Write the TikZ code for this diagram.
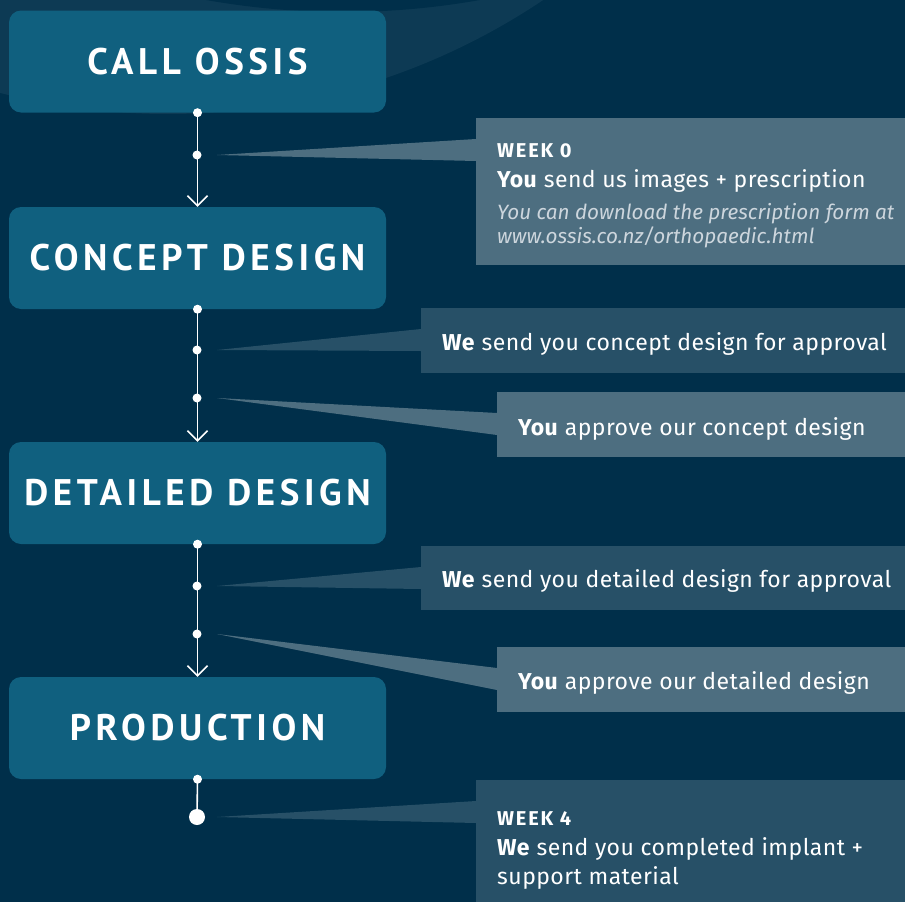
\documentclass[tikz,border=0pt]{standalone}
\usepackage{fontspec}
\setmainfont{Fira Sans}
\newfontfamily\headfont{PT Sans}[LetterSpace=12.5]
\newfontfamily\bodyfont{Fira Sans}[LetterSpace=2]
\newfontfamily\weekfont{Fira Sans}[LetterSpace=9]
\usetikzlibrary{arrows.meta,calc}
\definecolor{bgc}{RGB}{0,47,74}
\definecolor{arcc}{RGB}{13,58,84}
\definecolor{boxc}{RGB}{16,96,127}
\definecolor{calllight}{RGB}{77,110,128}
\definecolor{calldark}{RGB}{39,80,103}
\definecolor{italc}{RGB}{205,214,221}
\tikzset{
  stage/.style={fill=boxc, rounded corners=12pt, minimum width=377pt, minimum height=102pt,
    inner sep=0pt, text=white, font=\headfont\bfseries\fontsize{37}{37}\selectfont},
  flow/.style={white, line width=1.6pt, -{Straight Barb[length=10pt,width=20pt,line width=1.5pt]}},
  dotsm/.style={fill=white},
  calloutbox/.style={anchor=north west, inner sep=0pt},
  lighttone/.style={fill=calllight},
  darktone/.style={fill=calldark},
  ctext/.style={anchor=base west, inner sep=0pt, text=white, font=\bodyfont\fontsize{23}{26}\selectfont},
  cweek/.style={anchor=base west, inner sep=0pt, text=white, font=\weekfont\bfseries\fontsize{20}{22}\selectfont},
  citalic/.style={anchor=base west, inner sep=0pt, text=italc, font=\itshape\fontsize{20.7}{24}\selectfont},
}
\newcommand{\pointer}[3]{% tip, callout node, colour
  \fill[#3] (#1) -- ($(#2.north west)+(0,21)$) -- ($(#2.north west)+(0,43)$) -- cycle;}
\begin{document}
\begin{tikzpicture}[x=1pt,y=-1pt]
\useasboundingbox (0,0) rectangle (905,902);
\clip (0,0) rectangle (905,902);
\fill[bgc] (0,0) rectangle (905,902);
\fill[arcc] (168,-560) circle[radius=674pt];
\fill[bgc] (343,-765) circle[radius=777pt];

% stages
\node[stage] (s1) at (197.5,61.5) {CALL OSSIS};
\node[stage] (s2) at (197.5,258) {CONCEPT DESIGN};
\node[stage] (s3) at (197.5,493) {DETAILED DESIGN};
\node[stage] (s4) at (197.5,728) {PRODUCTION};

% step points on the flow
\coordinate (a1) at (197,155);
\coordinate (b1) at (197,350);
\coordinate (b2) at (197,398);
\coordinate (e1) at (197,586);
\coordinate (e2) at (197,634);
\coordinate (f1) at (197,817);

% callout boxes
\node[calloutbox, lighttone, minimum width=429pt, minimum height=147pt] (c1) at (476,118) {};
\node[calloutbox, darktone, minimum width=484pt, minimum height=65pt] (c2) at (421,308) {};
\node[calloutbox, lighttone, minimum width=408pt, minimum height=65pt] (c3) at (497,392) {};
\node[calloutbox, darktone, minimum width=484pt, minimum height=64pt] (c4) at (421,546) {};
\node[calloutbox, lighttone, minimum width=408pt, minimum height=65pt] (c5) at (497,647) {};
\node[calloutbox, darktone, minimum width=429pt, minimum height=140pt] (c6) at (476,780) {};

% pointers
\pointer{$(a1)+(20,0)$}{c1}{calllight}
\pointer{$(b1)+(20,0)$}{c2}{calldark}
\pointer{$(b2)+(20,0)$}{c3}{calllight}
\pointer{$(e1)+(20,0)$}{c4}{calldark}
\pointer{$(e2)+(20,0)$}{c5}{calllight}
\pointer{$(f1)+(20,0)$}{c6}{calldark}

% flow lines
\draw[flow] (s1.south) -- (s2.north);
\draw[flow] (s2.south) -- (s3.north);
\draw[flow] (s3.south) -- (s4.north);
\draw[white, line width=1.6pt] (s4.south) -- (f1);
\fill[dotsm] (s1.south) circle[radius=4.5pt] (a1) circle[radius=4.5pt];
\fill[dotsm] (s2.south) circle[radius=4.5pt] (b1) circle[radius=4.5pt] (b2) circle[radius=4.5pt];
\fill[dotsm] (s3.south) circle[radius=4.5pt] (e1) circle[radius=4.5pt] (e2) circle[radius=4.5pt];
\fill[dotsm] (s4.south) circle[radius=4.5pt] (f1) circle[radius=8pt];

% callout texts
\node[cweek] (t1a) at (497,157) {WEEK 0};
\node[ctext] (t1b) at (497,187) {\textbf{You} send us images + prescription};
\node[citalic] (t1c) at (497,219) {You can download the prescription form at};
\node[citalic] (t1d) at (497,243) {www.ossis.co.nz/orthopaedic.html};
\node[ctext] (t2) at (442,350) {\textbf{We} send you concept design for approval};
\node[ctext] (t3) at (518,435) {\textbf{You} approve our concept design};
\node[ctext] (t4) at (442,587) {\textbf{We} send you detailed design for approval};
\node[ctext] (t5) at (518,689) {\textbf{You} approve our detailed design};
\node[cweek] (t6a) at (497,825) {WEEK 4};
\node[ctext] (t6b) at (497,855) {\textbf{We} send you completed implant +};
\node[ctext] (t6c) at (497,884) {support material};
\end{tikzpicture}
\end{document}
